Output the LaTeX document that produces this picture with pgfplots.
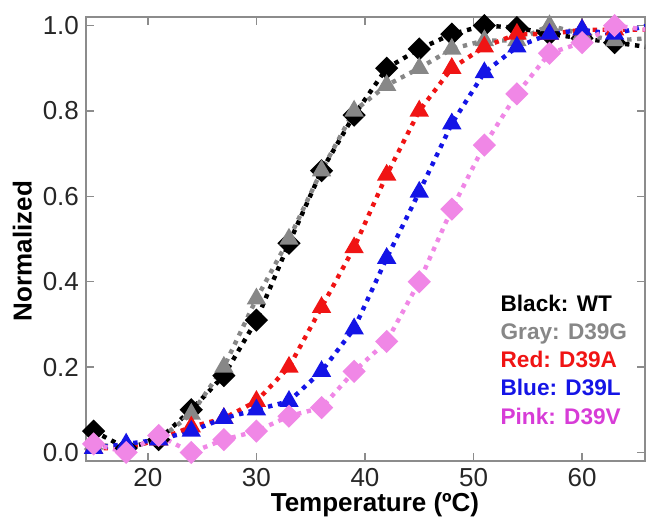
\documentclass[border=0pt]{standalone}
\usepackage{fontspec}
\setmainfont{Liberation Sans}
\usepackage{pgfplots}
\pgfplotsset{compat=1.18}
\definecolor{wtcol}{RGB}{0,0,0}
\definecolor{gcol}{RGB}{135,135,135}
\definecolor{acol}{RGB}{240,20,20}
\definecolor{lcol}{RGB}{20,20,230}
\definecolor{vcol}{RGB}{240,135,230}
\definecolor{vtext}{RGB}{215,60,215}

\begin{document}
\begin{tikzpicture}
\useasboundingbox (-43pt,-28.5pt) rectangle (280.5pt,230.5pt);
\begin{axis}[
    scale only axis,
    width=279.5pt, height=222pt,
    xmin=14.3, xmax=65.8,
    ymin=-0.02, ymax=1.02,
    xtick={20,30,40,50,60},
    ytick={0,0.2,0.4,0.6,0.8,1.0},
    /pgf/number format/assume math mode=true,
    yticklabel style={/pgf/number format/.cd, fixed, fixed zerofill, precision=1},
    tick align=inside,
    major tick length=4pt,
    axis line style={black!45, line width=0.8pt},
    tick style={black!45, line width=0.8pt},
    tick label style={font=\fontsize{13}{15}\selectfont, color=black!85},
    xlabel={Temperature (ºC)},
    ylabel={Normalized},
    label style={font=\bfseries\fontsize{13}{15}\selectfont},
    xlabel style={at={(axis description cs:0.517,-0.113)}, anchor=base},
    ylabel style={at={(axis description cs:-0.114,0.473)}, anchor=center},
    every axis plot/.append style={line width=2.2pt, line cap=butt, dash pattern=on 2.2pt off 2.8pt},
]
% WT
\addplot[color=wtcol, mark=square*, mark size=3pt, mark options={solid, rotate=45}] coordinates {
    (15,0.05) (18,0.01) (21,0.03) (24,0.10) (27,0.18) (30,0.31) (33,0.49)
    (36,0.66) (39,0.79) (42,0.90) (45,0.945) (48,0.98) (51,1.0) (54,0.995)
    (57,0.98) (60,0.97) (63,0.96) (66,0.95)
};
% D39G
\addplot[color=gcol, mark=triangle*, mark size=3.4pt, mark options={solid}] coordinates {
    (15,0.02) (18,0.01) (21,0.03) (24,0.09) (27,0.20) (30,0.36) (33,0.50)
    (36,0.66) (39,0.80) (42,0.86) (45,0.90) (48,0.945) (51,0.965) (54,0.965)
    (57,1.0) (60,0.98) (63,0.965) (66,0.97)
};
% D39A
\addplot[color=acol, mark=triangle*, mark size=3.4pt, mark options={solid}] coordinates {
    (15,0.01) (18,0.01) (21,0.03) (24,0.06) (27,0.08) (30,0.12) (33,0.20)
    (36,0.34) (39,0.48) (42,0.65) (45,0.80) (48,0.90) (51,0.95) (54,0.98)
    (57,0.98) (60,0.99) (63,0.99) (66,0.99)
};
% D39L
\addplot[color=lcol, mark=triangle*, mark size=3.4pt, mark options={solid}] coordinates {
    (15,0.01) (18,0.02) (21,0.03) (24,0.05) (27,0.08) (30,0.10) (33,0.12)
    (36,0.19) (39,0.29) (42,0.455) (45,0.61) (48,0.77) (51,0.89) (54,0.95)
    (57,0.98) (60,0.99) (63,0.98) (66,1.0)
};
% D39V
\addplot[color=vcol, mark=square*, mark size=3pt, mark options={solid, rotate=45}] coordinates {
    (15,0.02) (18,0.0) (21,0.04) (24,0.0) (27,0.03) (30,0.05) (33,0.085)
    (36,0.105) (39,0.19) (42,0.26) (45,0.40) (48,0.57) (51,0.72) (54,0.84)
    (57,0.935) (60,0.96) (63,1.0) (66,0.99)
};
\begin{scope}[every node/.style={anchor=base west, font=\bfseries\fontsize{11.3}{13}\selectfont, inner sep=0pt}]
\node[text=black] at (rel axis cs:0.741,0.336) {Black: WT};
\node[text=gcol] at (rel axis cs:0.741,0.273) {Gray: D39G};
\node[text=acol] at (rel axis cs:0.741,0.210) {Red: D39A};
\node[text=lcol] at (rel axis cs:0.741,0.147) {Blue: D39L};
\node[text=vtext] at (rel axis cs:0.741,0.083) {Pink: D39V};
\end{scope}
\end{axis}
\end{tikzpicture}
\end{document}
